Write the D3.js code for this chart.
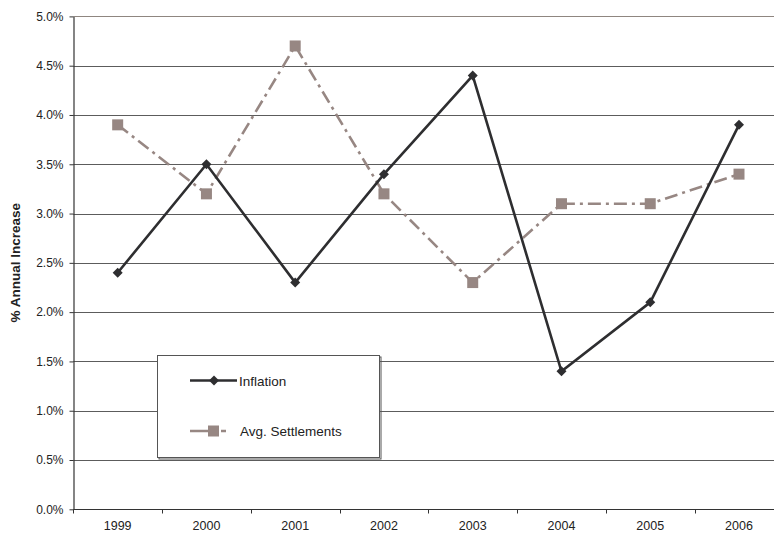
<!DOCTYPE html>
<html>
<head>
<meta charset="utf-8">
<script src="https://cdn.jsdelivr.net/npm/d3@7"></script>
<style>
  html, body { margin: 0; padding: 0; background: #fff; }
  svg { display: block; }
  text { font-family: "Liberation Sans", Arial, Helvetica, sans-serif; fill: #222; }
</style>
</head>
<body>
<svg id="chart" width="774" height="533"></svg>
<script>
// Annual increase, in percent, by year
const years = ["1999", "2000", "2001", "2002", "2003", "2004", "2005", "2006"];
const inflation = [2.4, 3.5, 2.3, 3.4, 4.4, 1.4, 2.1, 3.9];
const settlements = [3.9, 3.2, 4.7, 3.2, 2.3, 3.1, 3.1, 3.4];
const yTicks = [0, 0.5, 1, 1.5, 2, 2.5, 3, 3.5, 4, 4.5, 5];
const seriesNames = ["Inflation", "Avg. Settlements"];

const svg = d3.select("#chart");

// plot area (runs a little past the right edge of the page)
const plotLeft = 73.3, plotTop = 16.4, plotBottom = 509.3;
const bandW = 88.76;
const plotRight = plotLeft + bandW * years.length;

const x = d3.scaleBand().domain(years).range([plotLeft, plotRight]).padding(0);
const y = d3.scaleLinear().domain([0, 5]).range([plotBottom, plotTop]);
const cx = d => x(d) + x.bandwidth() / 2;

const inkDark = "#2e2e30";
const inkSettle = "#978783";

// horizontal gridlines
svg.append("g").selectAll("line")
  .data(yTicks.filter(t => t > 0))
  .join("line")
  .attr("x1", plotLeft).attr("x2", plotRight)
  .attr("y1", d => Math.round(y(d)) + 0.5).attr("y2", d => Math.round(y(d)) + 0.5)
  .attr("stroke", d => d === 5 ? "#8f8680" : "#5c5c5c")
  .attr("stroke-width", 1);

// y axis
const yAxis = d3.axisLeft(y).tickValues(yTicks)
  .tickFormat(d => d.toFixed(1) + "%").tickSizeOuter(0).tickSizeInner(4).tickPadding(6);
const gy = svg.append("g").attr("transform", `translate(${Math.round(plotLeft) + 0.5},0)`).call(yAxis);
gy.select(".domain").attr("stroke", "#333").attr("stroke-width", 1.2);
gy.selectAll(".tick line").attr("stroke", "#333");
gy.selectAll(".tick text").attr("font-size", 12).style("fill", "#222")
  .attr("font-family", "'Liberation Sans', Arial, sans-serif");

// x axis: ticks sit on the category boundaries
const gx = svg.append("g").attr("transform", `translate(0,${Math.round(plotBottom) + 0.5})`);
gx.append("line").attr("x1", plotLeft).attr("x2", plotRight).attr("stroke", "#333").attr("stroke-width", 1.2);
gx.selectAll("line.tk").data(d3.range(years.length + 1)).join("line").attr("class", "tk")
  .attr("x1", i => Math.round(plotLeft + i * bandW) + 0.5).attr("x2", i => Math.round(plotLeft + i * bandW) + 0.5)
  .attr("y1", 0).attr("y2", 4).attr("stroke", "#333");
gx.selectAll("text").data(years).join("text")
  .attr("x", d => cx(d)).attr("y", 20)
  .attr("text-anchor", "middle").attr("font-size", 12.5)
  .text(d => d);

// y axis title
svg.append("text")
  .attr("transform", `translate(20,${(plotTop + plotBottom) / 2}) rotate(-90)`)
  .attr("text-anchor", "middle").attr("font-size", 13.5).attr("font-weight", "bold")
  .text("% Annual Increase");

const line = d3.line().x((d, i) => cx(years[i])).y(d => y(d));

// Avg. Settlements series
svg.append("path").datum(settlements)
  .attr("d", line).attr("fill", "none")
  .attr("stroke", inkSettle).attr("stroke-width", 2.6)
  .attr("stroke-dasharray", "13,5,3,5");
svg.append("g").selectAll("rect").data(settlements).join("rect")
  .attr("x", (d, i) => cx(years[i]) - 5.5).attr("y", d => y(d) - 5.5)
  .attr("width", 11).attr("height", 11).attr("fill", inkSettle);

// Inflation series
svg.append("path").datum(inflation)
  .attr("d", line).attr("fill", "none")
  .attr("stroke", inkDark).attr("stroke-width", 2.6).attr("stroke-linejoin", "miter");
const diamond = d3.symbol().type(d3.symbolSquare).size(50);
svg.append("g").selectAll("path").data(inflation).join("path")
  .attr("d", diamond)
  .attr("transform", (d, i) => `translate(${cx(years[i])},${y(d)}) rotate(45)`)
  .attr("fill", inkDark);

// legend
const lg = svg.append("g");
const box = { x: 157.5, y: 355.5, w: 222, h: 102 };
lg.append("rect").attr("x", box.x + 1.5).attr("y", box.y + 1.5).attr("width", box.w).attr("height", box.h)
  .attr("fill", "none").attr("stroke", "#555").attr("stroke-width", 1);
lg.append("rect").attr("x", box.x).attr("y", box.y).attr("width", box.w).attr("height", box.h)
  .attr("fill", "#fff").attr("stroke", "#555").attr("stroke-width", 1);

const rows = [
  { name: seriesNames[0], y: 380.5, color: inkDark, dash: null },
  { name: seriesNames[1], y: 431, color: inkSettle, dash: "26,5,5,5" }
];
rows.forEach((r, k) => {
  lg.append("line").attr("x1", 190).attr("x2", k === 0 ? 237 : 228)
    .attr("y1", r.y).attr("y2", r.y)
    .attr("stroke", r.color).attr("stroke-width", 2.6)
    .attr("stroke-dasharray", r.dash);
  if (k === 0) {
    lg.append("path").attr("d", diamond)
      .attr("transform", `translate(214,${r.y}) rotate(45)`).attr("fill", r.color);
  } else {
    lg.append("rect").attr("x", 213.5 - 5.5).attr("y", r.y - 5.5)
      .attr("width", 11).attr("height", 11).attr("fill", r.color);
  }
  lg.append("text").attr("x", k === 0 ? 239 : 240).attr("y", r.y + 5)
    .attr("font-size", 13.5).text(r.name);
});
</script>
</body>
</html>
